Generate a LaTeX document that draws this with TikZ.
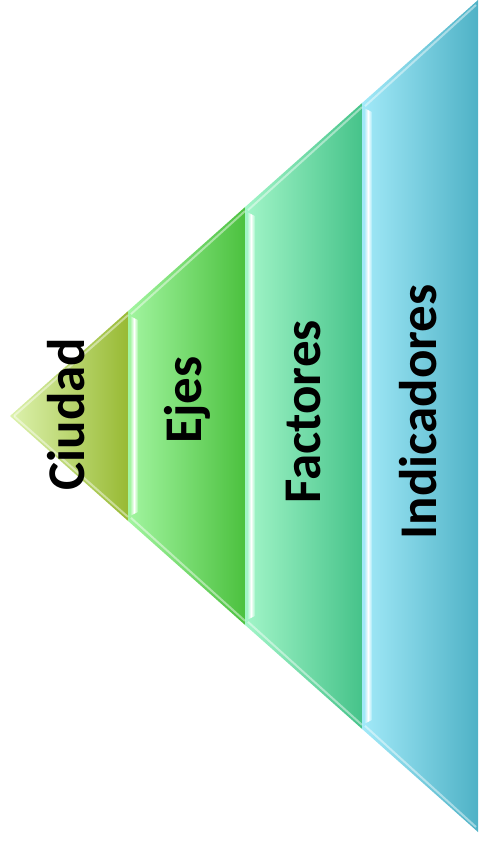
\documentclass[tikz,border=0pt]{standalone}
\usepackage{fontspec}
\setmainfont{Carlito}
\usetikzlibrary{calc}
\definecolor{ciuL}{HTML}{DDF2AE}
\definecolor{ciuR}{HTML}{98BA34}
\definecolor{ejeL}{HTML}{A2F5A0}
\definecolor{ejeR}{HTML}{4CC13F}
\definecolor{facL}{HTML}{A2F5C8}
\definecolor{facR}{HTML}{46C38A}
\definecolor{indL}{HTML}{A2E9F8}
\definecolor{indR}{HTML}{4FB2C6}
\tikzset{
  lbl/.style={rotate=90, anchor=base, font=\fontsize{53}{60}\selectfont\bfseries, text=black, inner sep=0pt},
  hl/.style={left color=white!0, right color=white!0, middle color=white, opacity=0.9},
  bevel/.style={draw=white, opacity=0.45, line width=2pt}
}
\begin{document}
\begin{tikzpicture}[x=1pt,y=-1pt]
\useasboundingbox (0,0) rectangle (483,849);
% key coordinates
\coordinate (A) at (10,416);
\coordinate (u1) at (128,311.1);  \coordinate (l1) at (128,520.9);
\coordinate (u2) at (245,207.1);  \coordinate (l2) at (245,624.9);
\coordinate (u3) at (362,103.1);  \coordinate (l3) at (362,728.9);
\coordinate (u4) at (478,0);      \coordinate (l4) at (478,832);
% segments
\shade[left color=ciuL, right color=ciuR] (A) -- (u1) -- (l1) -- cycle;
\shade[left color=ejeL, right color=ejeR] (u1) -- (u2) -- (l2) -- (l1) -- cycle;
\shade[left color=facL, right color=facR] (u2) -- (u3) -- (l3) -- (l2) -- cycle;
\shade[left color=indL, right color=indR] (u3) -- (u4) -- (l4) -- (l3) -- cycle;
% bevels along the slanted edges
\draw[bevel] ($(A)+(4,0)$) -- ($(u1)+(0,4)$);
\draw[bevel] ($(A)+(4,0)$) -- ($(l1)+(0,-4)$);
\draw[bevel] ($(u1)+(3,3)$) -- ($(u2)+(0,4)$);
\draw[bevel] ($(l1)+(3,-3)$) -- ($(l2)+(0,-4)$);
\draw[bevel] ($(u2)+(3,3)$) -- ($(u3)+(0,4)$);
\draw[bevel] ($(l2)+(3,-3)$) -- ($(l3)+(0,-4)$);
\draw[bevel] ($(u3)+(3,3)$) -- ($(u4)+(-2,5)$);
\draw[bevel] ($(l3)+(3,-3)$) -- ($(l4)+(-2,-5)$);
% highlight stripes
\foreach \u/\l/\c in {u1/l1/ejeL, u2/l2/facL, u3/l3/indL}{
  \shade[left color=\c, right color=\c, middle color=white]
    ($(\u)+(2,5)$) -- ($(\u)+(10,9)$) -- ($(\l)+(10,-9)$) -- ($(\l)+(2,-5)$) -- cycle;
}
% labels
\node[lbl] (ciudad) at (84,414) {Ciudad};
\node[lbl] (ejes) at (201,400) {Ejes};
\node[lbl] (factores) at (320,412) {Factores};
\node[lbl] (indicadores) at (436,412) {Indicadores};
\end{tikzpicture}
\end{document}
